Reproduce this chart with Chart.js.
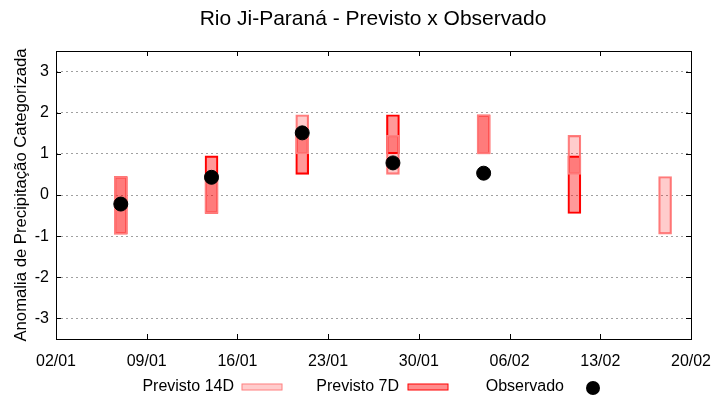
<!DOCTYPE html>
<html>
<head>
<meta charset="utf-8">
<script src="https://cdn.jsdelivr.net/npm/chart.js@4.4.0/dist/chart.umd.min.js"></script>
<style>
  body { margin: 0; background: #fff; }
  #wrap { width: 720px; height: 400px; }
</style>
</head>
<body>
<div id="wrap"><canvas id="chuva"></canvas></div>
<script>
// datas das previsoes (semanas)
const datas = ['07/01', '14/01', '21/01', '28/01', '04/02', '11/02', '18/02'];
// faixas previstas (min / max)
const prev14Min = [-0.95, -0.45, 1.0, 0.5, 1.0, 0.5, -0.95];
const prev14Max = [0.45, 0.5, 1.95, 1.45, 1.95, 1.45, 0.45];
const prev7Min = [-0.95, -0.45, 0.5, 1.0, 1.0, -0.45, null];
const prev7Max = [0.45, 0.95, 1.5, 1.95, 1.95, 0.95, null];
// anomalia observada
const observado = [-0.22, 0.43, 1.51, 0.78, 0.53, null, null];

const xTicks = ['02/01', '09/01', '16/01', '23/01', '30/01', '06/02', '13/02', '20/02'];
const yTicks = [-3, -2, -1, 0, 1, 2, 3];

const ANO = 2024;
const inicio = new Date(ANO, 0, 2);
function dia(s) {
    const p = s.split('/');
    const d = new Date(ANO, parseInt(p[1]) - 1, parseInt(p[0]));
    return Math.round((d - inicio) / 86400000);
}

const faixa = (mins, maxs) => datas
    .map((d, i) => mins[i] == null ? null : { x: dia(d), y: [mins[i], maxs[i]] })
    .filter(p => p != null);

const pontos = datas
    .map((d, i) => observado[i] == null ? null : { x: dia(d), y: observado[i] })
    .filter(p => p != null);

const fonte = "'Liberation Sans', Arial, sans-serif";

// titulo, moldura e legenda no estilo gnuplot
const extras = {
    id: 'extras',
    afterDraw(chart) {
        const c = chart.ctx;
        const a = chart.chartArea;
        const xs = chart.scales.x, ys = chart.scales.y;
        c.save();
        c.fillStyle = '#000';
        c.font = '21px ' + fonte;
        c.textAlign = 'center';
        c.textBaseline = 'middle';
        c.fillText('Rio Ji-Paraná - Previsto x Observado', 373, 19);

        c.strokeStyle = '#000';
        c.lineWidth = 1;
        c.strokeRect(a.left + 0.5, a.top + 0.5, a.right - a.left, a.bottom - a.top);
        c.beginPath();
        yTicks.forEach(v => {
            const y = Math.round(ys.getPixelForValue(v)) + 0.5;
            c.moveTo(a.left, y); c.lineTo(a.left + 5, y);
            c.moveTo(a.right, y); c.lineTo(a.right - 5, y);
        });
        xTicks.forEach(t => {
            const x = Math.round(xs.getPixelForValue(dia(t))) + 0.5;
            c.moveTo(x, a.bottom); c.lineTo(x, a.bottom - 5);
            c.moveTo(x, a.top); c.lineTo(x, a.top + 5);
        });
        c.stroke();

        // legenda
        c.font = '16px ' + fonte;
        c.textAlign = 'right';
        const ly = 387;
        c.fillText('Previsto 14D', 234, ly);
        c.fillStyle = 'rgba(255,0,0,0.2)';
        c.fillRect(242, ly - 3, 40, 6);
        c.strokeStyle = '#ff7f7f';
        c.strokeRect(242, ly - 3, 40, 6);
        c.fillStyle = '#000';
        c.fillText('Previsto 7D', 399, ly);
        c.fillStyle = 'rgba(255,0,0,0.45)';
        c.fillRect(408, ly - 3, 40, 6);
        c.strokeStyle = '#ff0000';
        c.strokeRect(408, ly - 3, 40, 6);
        c.fillStyle = '#000';
        c.fillText('Observado', 564, ly);
        c.beginPath();
        c.arc(593, ly + 1, 7, 0, Math.PI * 2);
        c.fill();
        c.restore();
    }
};

const ctx = document.getElementById('chuva').getContext('2d');
const grafico = new Chart(ctx, {
    type: 'bar',
    data: {
        datasets: [{
            type: 'scatter',
            label: 'Observado',
            data: pontos,
            backgroundColor: '#000',
            borderColor: '#000',
            pointRadius: 7,
            pointHoverRadius: 7,
            order: 0
        }, {
            label: 'Previsto 14D',
            data: faixa(prev14Min, prev14Max),
            backgroundColor: 'rgba(255,0,0,0.2)',
            borderColor: '#ff7f7f',
            borderWidth: 1.5,
            borderSkipped: false,
            barThickness: 13,
            grouped: false,
            order: 1
        }, {
            label: 'Previsto 7D',
            data: faixa(prev7Min, prev7Max),
            backgroundColor: 'rgba(255,0,0,0.4)',
            borderColor: '#ff0000',
            borderWidth: 1.5,
            borderSkipped: false,
            barThickness: 13,
            grouped: false,
            order: 2
        }]
    },
    options: {
        responsive: true,
        maintainAspectRatio: false,
        animation: false,
        layout: { padding: { top: 51, right: 29, bottom: 31, left: 0 } },
        plugins: { legend: { display: false }, tooltip: { enabled: false } },
        scales: {
            x: {
                type: 'linear',
                offset: false,
                min: 0,
                max: dia('20/02'),
                afterBuildTicks: s => { s.ticks = xTicks.map(t => ({ value: dia(t) })); },
                afterFit: s => { s.height = 30; },
                grid: { display: false },
                border: { display: false },
                ticks: {
                    color: '#000',
                    font: { family: fonte, size: 16 },
                    padding: 5,
                    maxRotation: 0,
                    callback: v => xTicks.find(t => dia(t) === v) || ''
                }
            },
            y: {
                min: -3.5,
                max: 3.5,
                afterBuildTicks: s => { s.ticks = yTicks.map(v => ({ value: v })); },
                afterFit: s => { s.width = 56; },
                grid: { color: '#a0a0a0', lineWidth: 1, drawTicks: false },
                border: { display: false, dash: [2, 3] },
                title: {
                    display: true,
                    text: 'Anomalia de Precipitação Categorizada',
                    color: '#000',
                    font: { family: fonte, size: 16.7 },
                    padding: { top: 11, bottom: 0 }
                },
                ticks: {
                    color: '#000',
                    font: { family: fonte, size: 16 },
                    padding: 7
                }
            }
        }
    },
    plugins: [extras]
});
</script>
</body>
</html>
